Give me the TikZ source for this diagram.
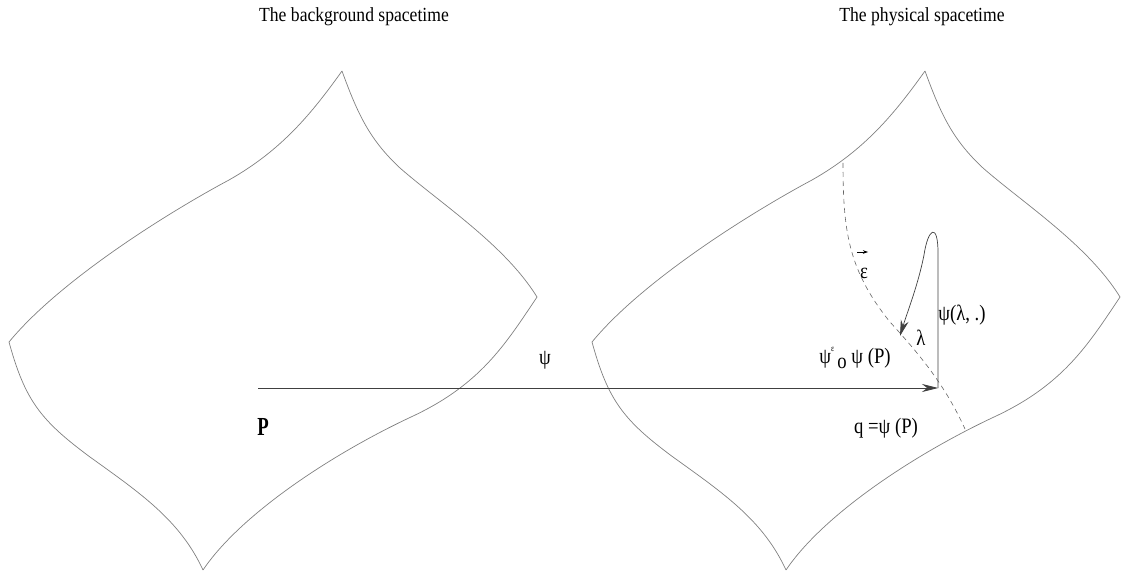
\documentclass[tikz,border=0pt]{standalone}
\usepackage{fontspec}
\setmainfont{Liberation Serif}
\usetikzlibrary{arrows.meta}
\newcommand{\narrow}[2][0.85]{\scalebox{#1}[1]{#2}}
\begin{document}
\begin{tikzpicture}[x=1pt,y=-1pt,line cap=butt,line join=miter,>={Stealth[length=16pt,width=8pt]}]
	\tikzset{rim/.style={draw=black!50,line width=0.7pt},
		dashcurve/.style={draw=black!60,dash pattern=on 5pt off 4pt,line width=0.6pt},
		lbl/.style={inner sep=0pt,font=\fontsize{22}{22}\selectfont},
		ttl/.style={inner sep=0pt,font=\fontsize{20}{20}\selectfont}
	}
	\useasboundingbox (0,0) rectangle (1122,572);
	% the two spacetimes, same outline
	\foreach \dx in {0,583}{
		\begin{scope}[xshift=\dx]
			\draw[rim] (342,71) .. controls (312,113) and (282,150) .. (229,180)
				.. controls (169,212) and (60,280) .. (9,342);
			\draw[rim] (342,71) .. controls (358,115) and (370,140) .. (400,168)
				.. controls (440,203) and (505,245) .. (537,297);
			\draw[rim] (537,297) .. controls (505,345) and (480,385) .. (411,417)
				.. controls (330,455) and (240,515) .. (203,570);
			\draw[rim] (9,342) .. controls (25,400) and (40,420) .. (90,457)
				.. controls (140,493) and (180,520) .. (203,570);
		\end{scope}
	}
	\node[ttl] (bgtitle) at (354,17) {\narrow[0.88]{The background spacetime}};
	\node[ttl] (phtitle) at (922,17) {\narrow[0.88]{The physical spacetime}};
	% the curve through q
	\draw[dashcurve] (843,163) .. controls (843,230) and (848,270) .. (890,322)
		.. controls (920,355) and (945,385) .. (965,429);
	\coordinate (p) at (258,388);
	\coordinate (q) at (938,388);
	\coordinate (hit) at (900,336);
	\draw[->,draw=black!75,line width=0.7pt] (p) -- (q);
	\draw[->,draw=black!75,line width=0.7pt] (q) -- ++(0,-135) .. controls (938,222) and (928,228) .. (924,255)
		.. controls (918,285) and (908,310) .. (hit);
	\node[lbl,font=\fontsize{26}{26}\selectfont\bfseries] (P) at (263,427) {\narrow[0.72]{P}};
	\node[lbl] (psi) at (545,360) {\narrow{ψ}};
	\node[lbl] (eps) at (864,273) {\narrow{ε}};
	\draw[-{Stealth[length=5pt,width=3.5pt]},line width=0.6pt] ([shift={(-7,-21)}]eps.center) -- ++(11,0);
	\node[lbl] (lam) at (921,338) {\narrow{λ}};
	\node[lbl] (psil) at (962,315) {\narrow{ψ(λ, .)}};
	\node[lbl] (comp) at (855,358) {\narrow{ψ\raisebox{12pt}{\fontsize{9}{9}\selectfont ε}\,\raisebox{-5pt}{o} ψ (P)}};
	\node[lbl] (qlab) at (886,428) {\narrow{q =ψ (P)}};
\end{tikzpicture}
\end{document}
